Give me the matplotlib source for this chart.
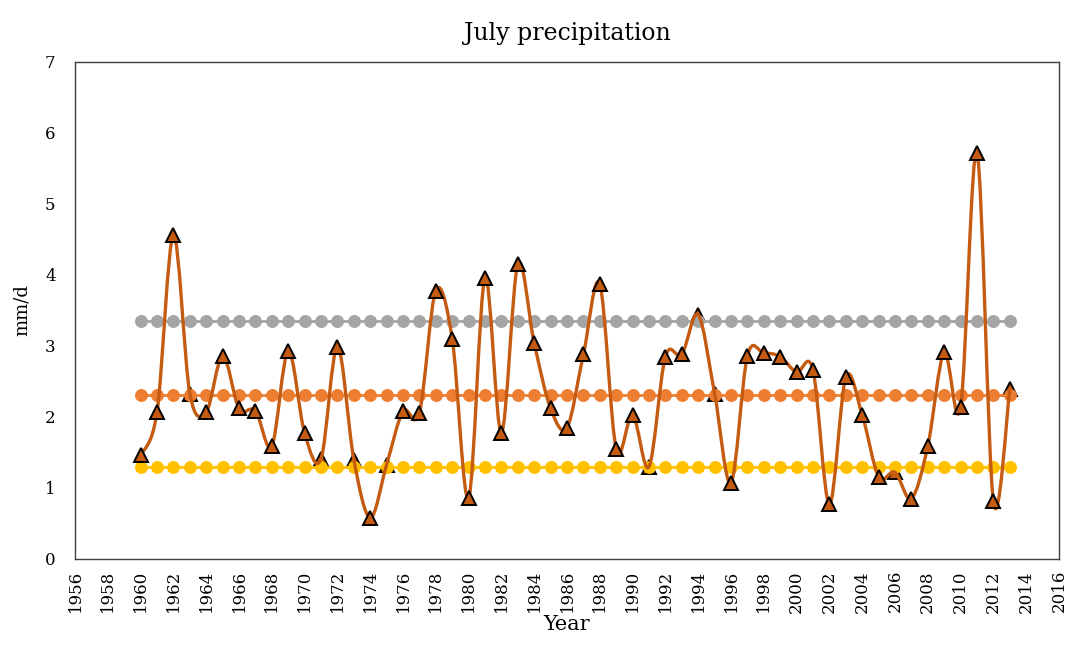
import numpy as np
import matplotlib as mpl
mpl.use("Agg")
import matplotlib.pyplot as plt
from matplotlib.path import Path
from matplotlib.patches import PathPatch

plt.rcParams["font.family"] = ["DejaVu Serif"]

years = list(range(1960, 2014))
precip = [1.46, 2.07, 4.56, 2.33, 2.07, 2.86, 2.12, 2.09, 1.59, 2.93,
          1.77, 1.41, 2.99, 1.40, 0.58, 1.33, 2.08, 2.06, 3.78, 3.10,
          0.86, 3.96, 1.78, 4.15, 3.04, 2.12, 1.85, 2.88, 3.87, 1.55,
          2.03, 1.30, 2.85, 2.88, 3.44, 2.33, 1.07, 2.86, 2.90, 2.85,
          2.63, 2.66, 0.77, 2.56, 2.03, 1.16, 1.22, 0.85, 1.59, 2.91,
          2.14, 5.72, 0.81, 2.39]
upper_ref = 3.35
mean_ref = 2.31
lower_ref = 1.29

fig = plt.figure(figsize=(10.75, 6.58), dpi=100)
ax = fig.add_axes([0.0698, 0.1505, 0.9153, 0.7553])

# smoothed line like the spreadsheet one (bezier through the points)
x = np.array(years, dtype=float)
y = np.array(precip)
verts = [(x[0], y[0])]
codes = [Path.MOVETO]
n = len(x)
for i in range(n - 1):
    p0 = np.array([x[max(i - 1, 0)], y[max(i - 1, 0)]])
    p1 = np.array([x[i], y[i]])
    p2 = np.array([x[i + 1], y[i + 1]])
    p3 = np.array([x[min(i + 2, n - 1)], y[min(i + 2, n - 1)]])
    c1 = p1 + (p2 - p0) / 6
    c2 = p2 - (p3 - p1) / 6
    verts += [tuple(c1), tuple(c2), tuple(p2)]
    codes += [Path.CURVE4] * 3
ax.add_patch(PathPatch(Path(verts, codes), fill=False, edgecolor="#C55A11",
                       lw=2.4, zorder=5))

refs = [(upper_ref, "#A5A5A5"), (mean_ref, "#ED7D31"), (lower_ref, "#FFC000")]
# triangles under the dots where they touch a reference line, on top elsewhere
near = np.min([np.abs(y - v) for v, _ in refs], axis=0) < 0.12
tri = dict(ls="none", marker="^", ms=10, mfc="#C55A11", mec="black", mew=1.4)
ax.plot(x[near], y[near], zorder=3, **tri)
ax.plot(x[~near], y[~near], zorder=6, **tri)

for val, col in refs:
    ax.plot(years, [val] * len(years), color=col, lw=2, marker="o", ms=8.3,
            mec=col, zorder=4)

ax.set_xlim(1956, 2016)
ax.set_ylim(0, 7)
ax.set_xticks(range(1956, 2017, 2))
ax.set_yticks(range(0, 8))
ax.tick_params(axis="x", labelrotation=90, length=0, labelsize=12, pad=8)
ax.tick_params(axis="y", length=0, labelsize=12, pad=14)
for s in ax.spines.values():
    s.set_color("#404040")
    s.set_linewidth(1)

ax.set_title("July precipitation", fontsize=17, pad=16)
ax.set_ylabel("mm/d", fontsize=13, labelpad=10)
ax.set_xlabel("Year", fontsize=15, labelpad=2)

fig.savefig("out.png", dpi=100)
